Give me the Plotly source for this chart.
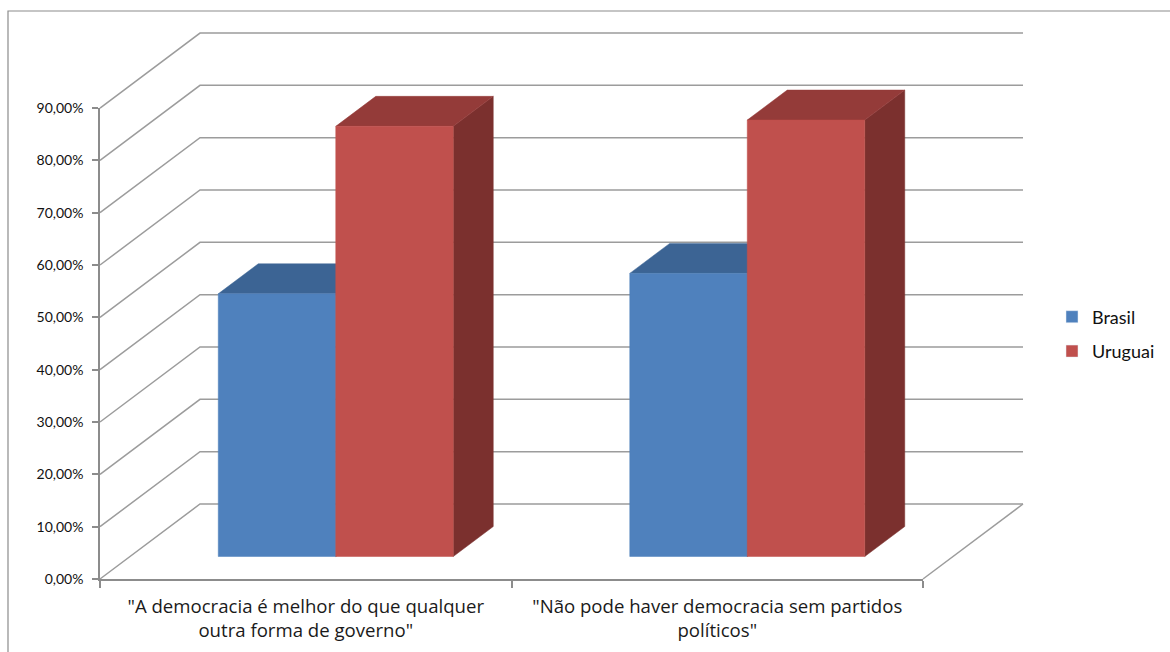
import plotly.graph_objects as go

# ---- data -----------------------------------------------------------------
categories = [
    '"A democracia é melhor do que qualquer<br>outra forma de governo"',
    '"Não pode haver democracia sem partidos<br>políticos"',
]
series_names = ["Brasil", "Uruguai"]
brasil = [50.2, 54.1]
uruguai = [82.2, 83.4]
tick_values = [0, 10, 20, 30, 40, 50, 60, 70, 80, 90]
tick_labels = ["0,00%", "10,00%", "20,00%", "30,00%", "40,00%",
               "50,00%", "60,00%", "70,00%", "80,00%", "90,00%"]

# ---- styling / geometry ---------------------------------------------------
W, H = 1170, 652
FONT = "Lato"
CAT_FONT = "Open Sans"
GRID = "#9c9c9c"
FACE = {"Brasil": "#4F81BD", "Uruguai": "#C0504D"}
TOP = {"Brasil": "#3C6494", "Uruguai": "#943B39"}
SIDE = {"Brasil": "#345780", "Uruguai": "#7B302E"}

PX_PER_CAT = 411.5          # pixels per category on the front edge
PX_PER_PCT = 5.233          # pixels per percentage point
ORIGIN = (100, 579)         # pixel position of the front-left floor corner
DEPTH_PX = (100, 75)        # oblique depth offset of the walls in pixels
PL, PR, PT, PB = 90, 1035, 25, 585   # plot area in pixels

DX = DEPTH_PX[0] / PX_PER_CAT        # depth offset in x units
DY = DEPTH_PX[1] / PX_PER_PCT        # depth offset in % units
YMAX = tick_values[-1]
BAR_W = 117.5 / PX_PER_CAT           # bar width in category units
FRONT_F = 0.30                       # depth position of bar front face
DEPTH_F = 0.40                       # bar depth as fraction of floor depth

fig = go.Figure()

# ---- walls and floor gridlines -------------------------------------------
gx, gy = [], []
for v in tick_values:
    # left wall diagonal + back wall horizontal
    gx += [0, DX, len(categories) + DX, None]
    gy += [v, v + DY, v + DY, None]
# right edge of the floor
gx += [len(categories) + DX, len(categories), None]
gy += [DY, 0, None]
fig.add_trace(go.Scatter(x=gx, y=gy, mode="lines",
                         line=dict(color=GRID, width=1.5),
                         hoverinfo="skip", showlegend=False))


def poly(xs, ys, color):
    fig.add_trace(go.Scatter(x=xs + [xs[0]], y=ys + [ys[0]], mode="lines",
                             fill="toself", fillcolor=color,
                             line=dict(color=color, width=0.5),
                             hoverinfo="skip", showlegend=False))


# ---- 3D columns -----------------------------------------------------------
fx, fy = FRONT_F * DX, FRONT_F * DY
ddx, ddy = DEPTH_F * DX, DEPTH_F * DY
values = {"Brasil": brasil, "Uruguai": uruguai}
for i in range(len(categories)):
    start = i + 0.5 - BAR_W * len(series_names) / 2 + fx
    for j, name in enumerate(series_names):
        v = values[name][i]
        x0 = start + j * BAR_W
        x1 = x0 + BAR_W
        b, t = fy, fy + v
        poly([x1, x1 + ddx, x1 + ddx, x1], [b, b + ddy, t + ddy, t], SIDE[name])
        poly([x0, x1, x1 + ddx, x0 + ddx], [t, t, t + ddy, t + ddy], TOP[name])
        poly([x0, x1, x1, x0], [b, b, t, t], FACE[name])

# legend entries
for name in series_names:
    fig.add_trace(go.Bar(x=[None], y=[None], name=name, marker_color=FACE[name],
                         xaxis="x2", yaxis="y2", legendgroup=name))

# ---- axes -----------------------------------------------------------------
pw, ph = PR - PL, PB - PT
x_range = [(PL - ORIGIN[0]) / PX_PER_CAT, (PR - ORIGIN[0]) / PX_PER_CAT]
y_range = [(ORIGIN[1] - PB) / PX_PER_PCT, (ORIGIN[1] - PT) / PX_PER_PCT]
x2_dom = [(ORIGIN[0] - PL) / pw, (ORIGIN[0] + len(categories) * PX_PER_CAT - PL) / pw]
y2_dom = [(PB - ORIGIN[1]) / ph, (PB - (ORIGIN[1] - YMAX * PX_PER_PCT)) / ph]

fig.update_layout(
    width=W, height=H,
    margin=dict(l=PL, r=W - PR, t=PT, b=H - PB, autoexpand=False),
    paper_bgcolor="white", plot_bgcolor="rgba(0,0,0,0)",
    xaxis=dict(range=x_range, visible=False, fixedrange=True),
    yaxis=dict(range=y_range, visible=False, fixedrange=True),
    xaxis2=dict(domain=x2_dom, range=[0, len(categories)], anchor="y2",
                showline=True, linecolor="#8c8c8c", linewidth=1.5,
                showgrid=False, zeroline=False,
                tickvals=[i + 0.5 for i in range(len(categories))],
                ticktext=categories, ticks="",
                minor=dict(tick0=0, dtick=1, ticks="outside", ticklen=7,
                           tickcolor="#8c8c8c", tickwidth=1.5, showgrid=False),
                ticklabelstandoff=10,
                tickfont=dict(family=CAT_FONT, size=18.6, color="#1a1a1a")),
    yaxis2=dict(domain=y2_dom, range=[0, YMAX], anchor="x2",
                showline=True, linecolor="#8c8c8c", linewidth=1.5,
                showgrid=False, zeroline=False,
                tickvals=tick_values, ticktext=tick_labels,
                ticks="outside", ticklen=6, tickcolor="#8c8c8c", tickwidth=1.5,
                ticklabelstandoff=6,
                tickfont=dict(family=FONT, size=14, color="#111111")),
    legend=dict(x=(1052 - PL) / pw, y=(PB - 334) / ph, xanchor="left",
                yanchor="middle", font=dict(family=FONT, size=18, color="#111111"),
                tracegroupgap=8, bgcolor="rgba(0,0,0,0)"),
    shapes=[dict(type="rect", xref="paper", yref="paper",
                 x0=(8 - PL) / pw, x1=(W + 10 - PL) / pw,
                 y0=(PB - (H + 10)) / ph, y1=(PB - 11) / ph,
                 line=dict(color="#8c8c8c", width=1.2), layer="below")],
    showlegend=True,
)

fig.write_html("out.html")
